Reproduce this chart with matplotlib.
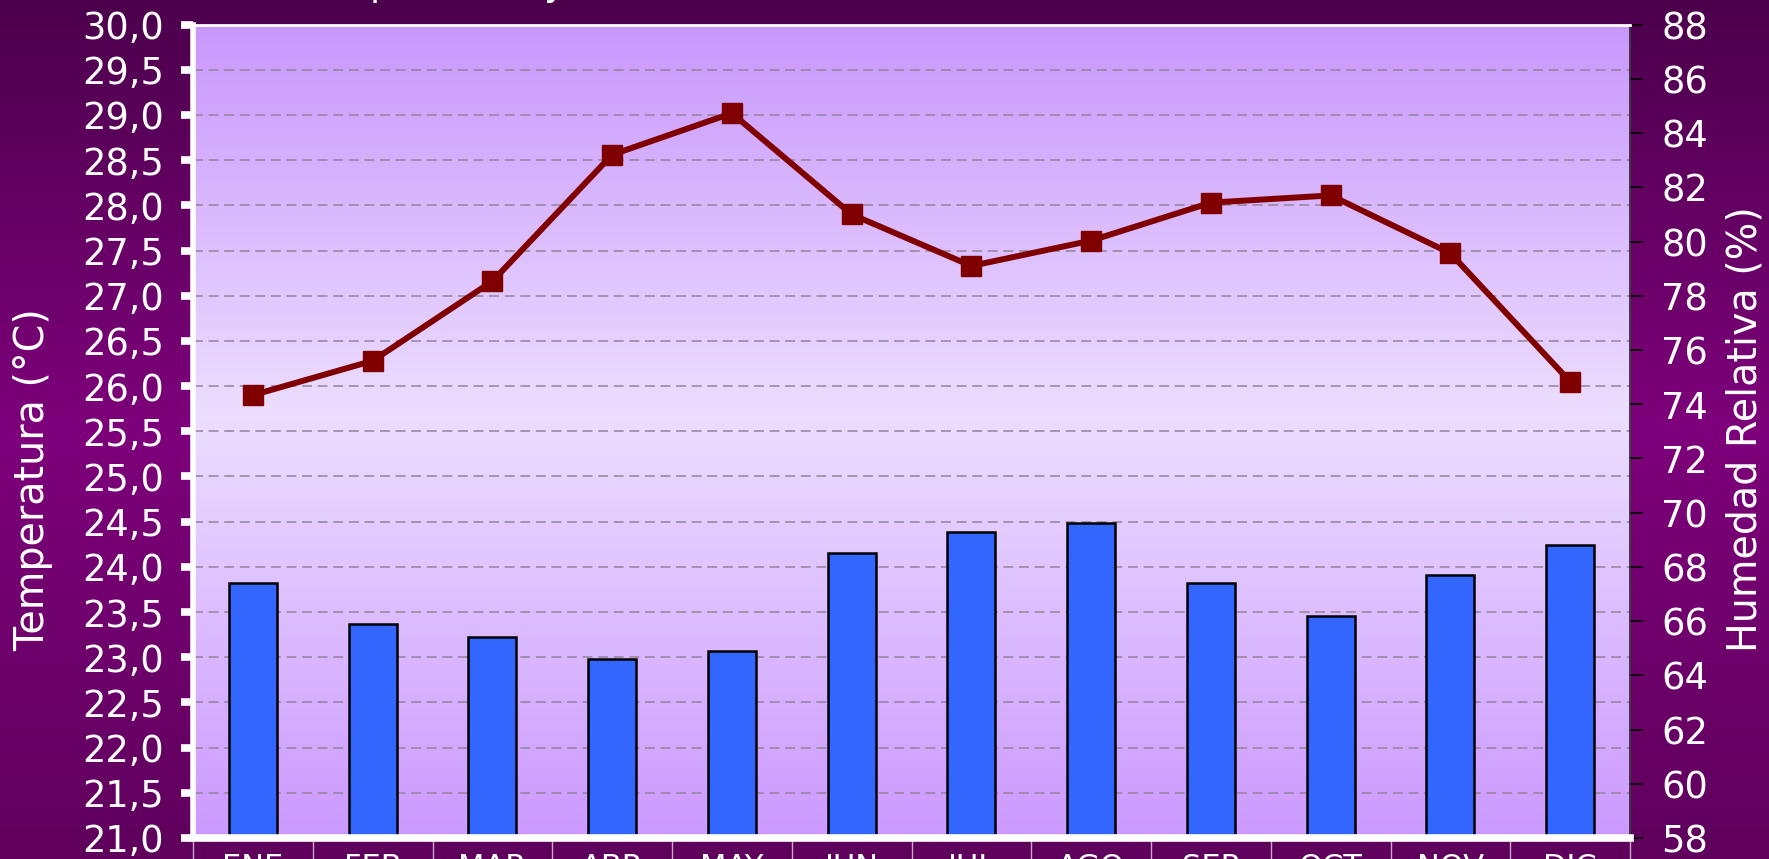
import numpy as np
import matplotlib
matplotlib.use("Agg")
import matplotlib.pyplot as plt
from matplotlib.colors import LinearSegmentedColormap

# monthly values
meses = ["ENE", "FEB", "MAR", "ABR", "MAY", "JUN",
         "JUL", "AGO", "SEP", "OCT", "NOV", "DIC"]
temperatura = [25.90, 26.28, 27.16, 28.56, 29.02, 27.90,
               27.33, 27.61, 28.03, 28.11, 27.47, 26.05]
humedad = [67.4, 65.9, 65.4, 64.6, 64.9, 68.5,
           69.3, 69.6, 67.4, 66.2, 67.7, 68.8]

t_ticks = np.arange(21, 30.01, 0.5)
h_ticks = np.arange(58, 88.1, 2)

W, H = 1769, 859
fig = plt.figure(figsize=(W / 100, H / 100), dpi=100)

# purple backdrop, brighter in the middle
bg = fig.add_axes([0, 0, 1, 1], zorder=-1)
bg_cmap = LinearSegmentedColormap.from_list(
    "fondo", [(0.0, "#4c004c"), (0.5, "#7e007b"), (1.0, "#5f005c")])
bg.imshow(np.linspace(0, 1, 256).reshape(-1, 1), cmap=bg_cmap,
          aspect="auto", extent=[0, 1, 0, 1])
bg.axis("off")

# plot area
left, right = 193 / W, 1630 / W
bottom, top = (H - 838) / H, (H - 24.6) / H
ax1 = fig.add_axes([left, bottom, right - left, top - bottom])
ax1.set_facecolor("none")

x = np.arange(len(meses))
ax1.set_xlim(-0.5, len(meses) - 0.5)
ax1.set_ylim(21, 30)

area_cmap = LinearSegmentedColormap.from_list(
    "area", [(0.0, "#cc99ff"), (0.52, "#ecdeff"), (1.0, "#c997fd")])
ax1.imshow(np.linspace(0, 1, 256).reshape(-1, 1), cmap=area_cmap,
           aspect="auto", extent=[-0.5, len(meses) - 0.5, 30, 21],
           zorder=0)

for v in t_ticks[1:-1]:
    ax1.axhline(v, color="#938399", linewidth=1.1, dashes=(6.5, 3.7),
                zorder=1)

ax1.plot(x, temperatura, color="#800000", linewidth=4.3, marker="s",
         markersize=15, zorder=3)

ax1.set_yticks(t_ticks)
ax1.set_yticklabels([f"{v:.1f}".replace(".", ",") for v in t_ticks])
ax1.tick_params(axis="y", colors="white", labelsize=26.5, length=9,
                width=5.5, pad=12)

ax1.set_xticks(x)
ax1.set_xticklabels(meses)
ax1.set_xticks(np.arange(-0.5, len(meses), 1), minor=True)
ax1.tick_params(axis="x", which="major", length=0, labelsize=22,
                labelcolor="white", pad=11)
ax1.tick_params(axis="x", which="minor", length=30, width=1,
                color="#c9a6c9")
for s in ax1.spines.values():
    s.set_visible(False)

# humidity bars on the right axis
ax2 = ax1.twinx()
ax2.set_ylim(58, 88)
ax2.bar(x, humedad, width=0.4, color="#3366ff", edgecolor="black",
        linewidth=1.8, zorder=2)
ax2.set_yticks(h_ticks)
ax2.set_yticklabels([f"{v:.0f}" for v in h_ticks])
ax2.tick_params(axis="y", colors="black", labelcolor="white",
                labelsize=26.5, length=9.5, width=1.2, pad=13)

ax2.spines["left"].set_color("white")
ax2.spines["left"].set_linewidth(4)
ax2.spines["bottom"].set_color("white")
ax2.spines["bottom"].set_linewidth(5.5)
ax2.spines["top"].set_color("white")
ax2.spines["top"].set_linewidth(2)
ax2.spines["right"].set_color("#222222")
ax2.spines["right"].set_linewidth(1.2)

fig.text(33 / W, 1 - 480 / H, "Temperatura (°C)", rotation=90,
         ha="center", va="center", color="white", fontsize=28.5)
fig.text(1745 / W, 1 - 429 / H, "Humedad Relativa (%)", rotation=90,
         ha="center", va="center", color="white", fontsize=28.5)
fig.text(294 / W, 1 + 4.8 / H, "Temperatura y Humedad Relativa",
         ha="left", va="baseline", color="white", fontsize=27)

fig.savefig("out.png", dpi=100)
